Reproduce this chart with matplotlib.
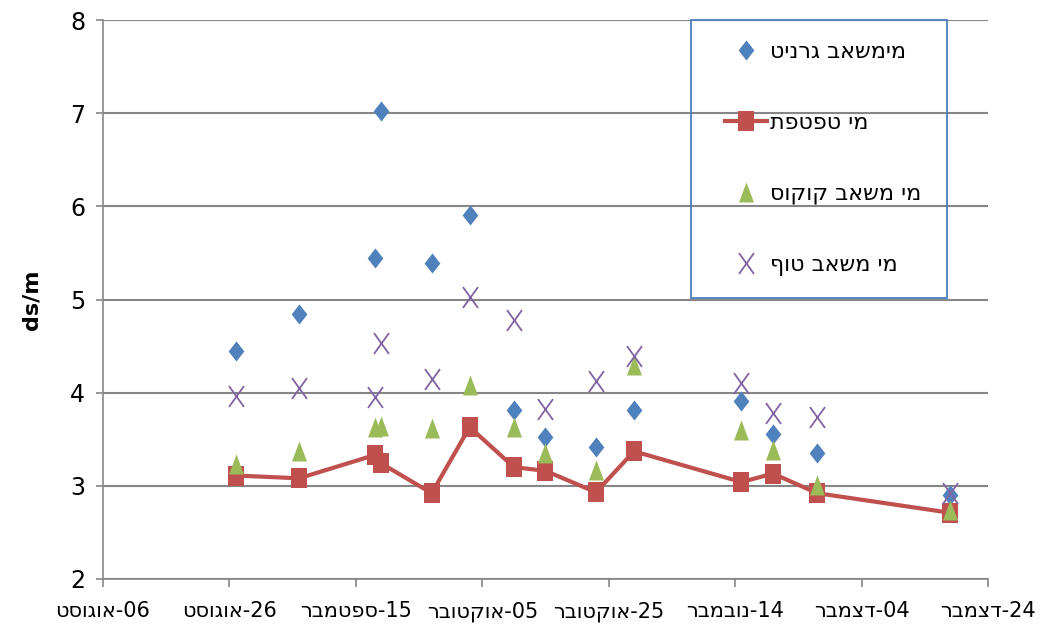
import numpy as np
import pandas as pd
import matplotlib
matplotlib.use("Agg")
import matplotlib.pyplot as plt
from matplotlib.path import Path
from matplotlib.patches import Rectangle

# sampling dates and conductivity readings (ds/m)
dates = ["2011-08-27", "2011-09-06", "2011-09-18", "2011-09-19", "2011-09-27",
         "2011-10-03", "2011-10-10", "2011-10-15", "2011-10-23", "2011-10-29",
         "2011-11-15", "2011-11-20", "2011-11-27", "2011-12-18"]
granite = [4.45, 4.84, 5.45, 7.03, 5.39, 5.91, 3.81, 3.52, 3.42, 3.81, 3.91, 3.56, 3.35, 2.90]
drip = [3.11, 3.08, 3.33, 3.24, 2.92, 3.63, 3.20, 3.16, 2.93, 3.37, 3.04, 3.13, 2.92, 2.71]
coconut = [3.23, 3.37, 3.63, 3.64, 3.62, 4.08, 3.63, 3.35, 3.17, 4.30, 3.60, 3.38, 3.01, 2.74]
tuff = [3.96, 4.05, 3.95, 4.53, 4.15, 5.03, 4.78, 3.82, 4.13, 4.39, 4.10, 3.78, 3.74, 2.92]

tick_dates = ["2011-08-06", "2011-08-26", "2011-09-15", "2011-10-05",
              "2011-10-25", "2011-11-14", "2011-12-04", "2011-12-24"]
tick_days = ["06", "26", "15", "05", "25", "14", "04", "24"]
tick_months = ["אוגוסט", "אוגוסט", "ספטמבר", "אוקטובר", "אוקטובר", "נובמבר", "דצמבר", "דצמבר"]

names = ["מימשאב גרניט", "מי טפטפת", "מי משאב קוקוס", "מי משאב טוף"]


def rtl(s):
    # matplotlib lays glyphs left to right, so flip hebrew text for display
    return s[::-1]


x = pd.to_datetime(dates)
xt = pd.to_datetime(tick_dates)
xlabels = [rtl(m) + "-" + d for m, d in zip(tick_months, tick_days)]

# marker shapes (slightly taller than wide)
diamond = Path([(0, 1), (0.78, 0), (0, -1), (-0.78, 0), (0, 1)],
               [Path.MOVETO, Path.LINETO, Path.LINETO, Path.LINETO, Path.CLOSEPOLY])
square = Path([(-0.8, -1), (0.8, -1), (0.8, 1), (-0.8, 1), (-0.8, -1)],
              [Path.MOVETO, Path.LINETO, Path.LINETO, Path.LINETO, Path.CLOSEPOLY])
triangle = Path([(0, 1), (0.75, -1), (-0.75, -1), (0, 1)],
                [Path.MOVETO, Path.LINETO, Path.LINETO, Path.CLOSEPOLY])
cross = Path([(-0.72, -1), (0.72, 1), (-0.72, 1), (0.72, -1)],
             [Path.MOVETO, Path.LINETO, Path.MOVETO, Path.LINETO])

plt.rcParams['font.family'] = ['DejaVu Sans']

fig = plt.figure(figsize=(10.41, 6.34), dpi=100)
ax = fig.add_axes([0.099, 0.087, 0.85, 0.881])

ax.plot(x, granite, linestyle='none', marker=diamond, markersize=14.5,
        color='#4f81bd', markeredgewidth=0, label=rtl(names[0]), zorder=3)
ax.plot(x, drip, linestyle='-', linewidth=3, marker=square, markersize=14.4,
        color='#c0504d', markeredgewidth=0, label=rtl(names[1]), zorder=3)
ax.plot(x, coconut, linestyle='none', marker=triangle, markersize=14.4,
        color='#9bbb59', markeredgewidth=0, label=rtl(names[2]), zorder=3)
ax.plot(x, tuff, linestyle='none', marker=cross, markersize=15,
        markerfacecolor='none', markeredgecolor='#8064a2', markeredgewidth=1.3,
        label=rtl(names[3]), zorder=3)

ax.set_ylim(2, 8)
ax.set_xlim(xt[0], xt[-1])
ax.set_yticks(range(2, 9))
ax.set_xticks(xt)
ax.set_xticklabels(xlabels)

ax.grid(axis='y', color='#868686', linewidth=1.5)
ax.set_axisbelow(True)
for side in ['top', 'right']:
    ax.spines[side].set_visible(False)
for side in ['left', 'bottom']:
    ax.spines[side].set_color('#868686')
    ax.spines[side].set_linewidth(1.2)

ax.tick_params(axis='y', length=5, width=1.2, color='#868686', pad=8, labelsize=17)
ax.tick_params(axis='x', length=6, width=1.2, color='#868686', pad=10, labelsize=15)

ax.set_ylabel("ds/m", fontsize=16, fontweight='bold', labelpad=20)

# legend with a blue frame drawn separately
ax.add_patch(Rectangle((0.664, 0.503), 0.29, 0.497, transform=ax.transAxes,
                       fill=False, edgecolor='#4a7ebb', linewidth=1.3, clip_on=False, zorder=4))
ax.legend(loc='upper left', bbox_to_anchor=(0.678, 1.0), frameon=False,
          fontsize=16, labelspacing=2.28, handlelength=1.9, handletextpad=0.15,
          borderpad=0.98, borderaxespad=0)

plt.savefig("out.png", dpi=100)
